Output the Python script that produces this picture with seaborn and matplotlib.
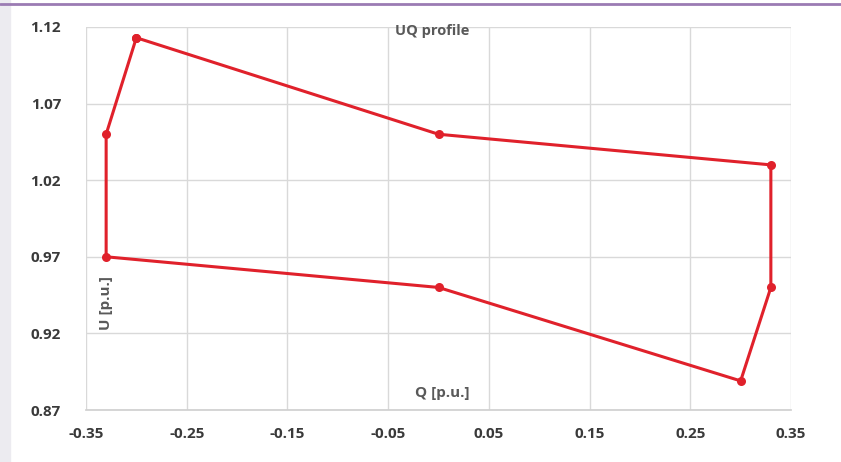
import matplotlib
matplotlib.use("Agg")
import matplotlib.pyplot as plt
import seaborn as sns
import pandas as pd
import numpy as np
from matplotlib.lines import Line2D
from matplotlib.patches import Rectangle

sns.set_theme(style="white")
plt.rcParams['font.family'] = ['Open Sans', 'DejaVu Sans']

q_values = [-0.30, 0.00, 0.33, 0.33, 0.30, 0.00, -0.33, -0.33, -0.30]
u_values = [1.113, 1.05, 1.03, 0.95, 0.889, 0.95, 0.97, 1.05, 1.113]
x_ticks = [-0.35, -0.25, -0.15, -0.05, 0.05, 0.15, 0.25, 0.35]
y_ticks = [0.87, 0.92, 0.97, 1.02, 1.07, 1.12]

df = pd.DataFrame({"Q": q_values, "U": u_values, "order": range(len(q_values))})

fig = plt.figure(figsize=(8.41, 4.62), dpi=100)
ax = fig.add_axes([86/841, 1 - 410/462, (791-86)/841, (410-27)/462])

red = "#E0212B"
sns.lineplot(data=df, x="Q", y="U", sort=False, estimator=None, color=red,
             linewidth=2.2, marker="o", markersize=6.5, markeredgewidth=0,
             ax=ax, legend=False)

ax.set_xlim(-0.35, 0.35)
ax.set_ylim(0.87, 1.12)
ax.set_xticks(x_ticks)
ax.set_yticks(y_ticks)
ax.set_xticklabels([f"{v:.2f}" for v in x_ticks])
ax.set_yticklabels([f"{v:.2f}" for v in y_ticks])
ax.grid(True, color="#D9D9D9", linewidth=1)
for s in ["left", "right", "top"]:
    ax.spines[s].set_visible(False)
ax.spines["bottom"].set_color("#D0D0D0")
ax.tick_params(axis="both", length=0, colors="#3A3A3A", labelsize=11)
ax.tick_params(axis="x", pad=12)
ax.tick_params(axis="y", pad=18)
for lab in ax.get_xticklabels() + ax.get_yticklabels():
    lab.set_fontweight("bold")
ax.set_xlabel("")
ax.set_ylabel("")

fig.text(432/841, 1 - 31/462, "UQ profile", ha="center", va="center",
         fontsize=10.5, color="#595959", fontweight="bold")
fig.text(442/841, 1 - 393/462, "Q [p.u.]", ha="center", va="center",
         fontsize=11, color="#595959", fontweight="bold")
fig.text(106/841, 1 - 303/462, "U [p.u.]", ha="center", va="center",
         rotation=90, fontsize=11, color="#595959", fontweight="bold")

fig.add_artist(Rectangle((0, 0), 10/841, 1, transform=fig.transFigure,
                         color="#ECEBF0", zorder=0))
fig.add_artist(Line2D([0, 1], [1 - 4/462, 1 - 4/462], transform=fig.transFigure,
                      color="#9B7BB3", linewidth=2))

fig.savefig("out.png", dpi=100)
